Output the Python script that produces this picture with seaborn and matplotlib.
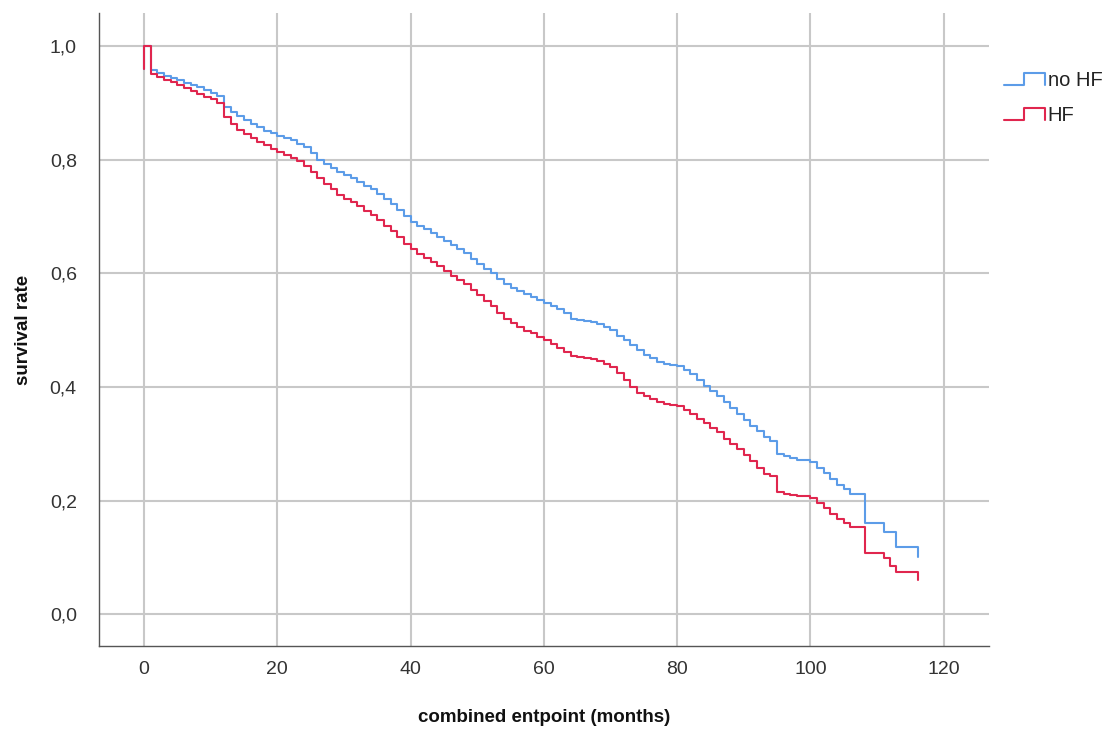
import numpy as np
import pandas as pd
import matplotlib
matplotlib.use("Agg")
import matplotlib.pyplot as plt
import seaborn as sns
from matplotlib.lines import Line2D
from matplotlib.legend_handler import HandlerBase
from matplotlib.ticker import FuncFormatter

# ---------------- data ----------------
groups = ["no HF", "HF"]

time_nohf = [0, 0, 1, 2, 3, 4, 5, 6, 7, 8, 9, 10, 11, 12, 13, 14, 15, 16, 17, 18, 19, 20,
             21, 22, 23, 24, 25, 26, 27, 28, 29, 30, 31, 32, 33, 34, 35, 36, 37, 38, 39, 40,
             41, 42, 43, 44, 45, 46, 47, 48, 49, 50, 51, 52, 53, 54, 55, 56, 57, 58, 59, 60,
             61, 62, 63, 64, 65, 66, 67, 68, 69, 70, 71, 72, 73, 74, 75, 76, 77, 78, 79, 80,
             81, 82, 83, 84, 85, 86, 87, 88, 89, 90, 91, 92, 93, 94, 95, 96, 97, 98, 100,
             101, 102, 103, 104, 105, 106, 108.2, 111, 112.8, 116.2]
surv_nohf = [0.96, 1.0, 0.958, 0.953, 0.948, 0.944, 0.940, 0.935, 0.931, 0.927, 0.922, 0.918,
             0.912, 0.892, 0.884, 0.876, 0.869, 0.862, 0.857, 0.851, 0.846, 0.842,
             0.838, 0.834, 0.828, 0.822, 0.812, 0.800, 0.793, 0.786, 0.779, 0.773,
             0.767, 0.760, 0.754, 0.748, 0.740, 0.731, 0.722, 0.712, 0.700, 0.690,
             0.684, 0.678, 0.671, 0.663, 0.657, 0.650, 0.643, 0.635, 0.625, 0.617,
             0.608, 0.600, 0.590, 0.581, 0.574, 0.568, 0.563, 0.558, 0.553, 0.548,
             0.543, 0.537, 0.530, 0.520, 0.517, 0.516, 0.514, 0.511, 0.506, 0.500,
             0.490, 0.482, 0.474, 0.465, 0.456, 0.450, 0.444, 0.440, 0.438, 0.436,
             0.430, 0.422, 0.412, 0.402, 0.393, 0.384, 0.374, 0.363, 0.352, 0.342,
             0.332, 0.322, 0.312, 0.305, 0.282, 0.278, 0.275, 0.272, 0.268,
             0.258, 0.248, 0.238, 0.228, 0.220, 0.212, 0.160, 0.145, 0.118, 0.100]

time_hf = [0, 0, 1, 2, 3, 4, 5, 6, 7, 8, 9, 10, 11, 12, 13, 14, 15, 16, 17, 18, 19, 20,
           21, 22, 23, 24, 25, 26, 27, 28, 29, 30, 31, 32, 33, 34, 35, 36, 37, 38, 39, 40,
           41, 42, 43, 44, 45, 46, 47, 48, 49, 50, 51, 52, 53, 54, 55, 56, 57, 58, 59, 60,
           61, 62, 63, 64, 65, 66, 67, 68, 69, 70, 71, 72, 73, 74, 75, 76, 77, 78, 79, 80,
           81, 82, 83, 84, 85, 86, 87, 88, 89, 90, 91, 92, 93, 94, 95, 96, 97, 98, 100,
           101, 102, 103, 104, 105, 106, 108.2, 111, 112, 112.8, 116.2]
surv_hf = [0.96, 1.0, 0.951, 0.946, 0.941, 0.936, 0.931, 0.926, 0.921, 0.916, 0.911, 0.906,
           0.900, 0.875, 0.862, 0.852, 0.845, 0.838, 0.831, 0.825, 0.819, 0.813,
           0.808, 0.803, 0.797, 0.788, 0.778, 0.768, 0.757, 0.748, 0.738, 0.730,
           0.725, 0.718, 0.710, 0.702, 0.693, 0.684, 0.674, 0.663, 0.652, 0.642,
           0.634, 0.626, 0.619, 0.612, 0.604, 0.596, 0.589, 0.581, 0.571, 0.561,
           0.551, 0.542, 0.530, 0.520, 0.512, 0.505, 0.499, 0.494, 0.488, 0.483,
           0.476, 0.469, 0.462, 0.455, 0.452, 0.451, 0.449, 0.446, 0.441, 0.435,
           0.425, 0.412, 0.400, 0.390, 0.384, 0.378, 0.373, 0.370, 0.368, 0.366,
           0.360, 0.352, 0.343, 0.336, 0.328, 0.320, 0.309, 0.300, 0.290, 0.280,
           0.270, 0.258, 0.247, 0.243, 0.215, 0.212, 0.210, 0.208, 0.204,
           0.196, 0.186, 0.176, 0.168, 0.160, 0.153, 0.107, 0.099, 0.085, 0.074, 0.060]

x_ticks = [0, 20, 40, 60, 80, 100, 120]
y_ticks = [0.0, 0.2, 0.4, 0.6, 0.8, 1.0]

# ---------------- styling ----------------
sns.set_theme(style="white")
plt.rcParams["font.family"] = ["Liberation Sans", "DejaVu Sans"]

colors = {"no HF": "#5C9CE8", "HF": "#E0264E"}

df = pd.concat([
    pd.DataFrame({"time": time_nohf, "survival": surv_nohf, "group": "no HF"}),
    pd.DataFrame({"time": time_hf, "survival": surv_hf, "group": "HF"}),
], ignore_index=True)

fig = plt.figure(figsize=(11.09, 7.36), dpi=100)
ax = fig.add_axes([0.0893, 0.1223, 0.8025, 0.8600])

sns.lineplot(data=df, x="time", y="survival", hue="group", hue_order=groups,
             palette=colors, estimator=None, sort=False, units="group",
             drawstyle="steps-post", linewidth=1.5, legend=False, ax=ax, zorder=3)

ax.set_xlim(-6.75, 126.8)
ax.set_ylim(-0.056, 1.058)
ax.set_xticks(x_ticks)
ax.set_yticks(y_ticks)
ax.yaxis.set_major_formatter(FuncFormatter(lambda v, p: f"{v:.1f}".replace(".", ",")))
ax.xaxis.set_major_formatter(FuncFormatter(lambda v, p: f"{int(v)}"))

ax.grid(True, color="#c8c8c8", linewidth=1.5, zorder=0)
ax.set_axisbelow(True)
for s in ["top", "right"]:
    ax.spines[s].set_visible(False)
for s in ["left", "bottom"]:
    ax.spines[s].set_color("#555555")
    ax.spines[s].set_linewidth(1.0)
ax.tick_params(axis="both", length=0, labelsize=14, labelcolor="#333333")
ax.tick_params(axis="x", pad=11)
ax.tick_params(axis="y", pad=16)

ax.set_xlabel("combined entpoint (months)", fontsize=13.5, fontweight="bold",
              color="#111111", labelpad=22)
ax.set_ylabel("survival rate", fontsize=13.5, fontweight="bold",
              color="#111111", labelpad=13)


class StepHandler(HandlerBase):
    def create_artists(self, legend, orig_handle, xdescent, ydescent, width, height,
                       fontsize, trans):
        x0, x1 = -xdescent, -xdescent + width
        ylo = -ydescent + height * 0.1
        yhi = -ydescent + height * 0.95
        xm = x0 + width * 0.5
        xs = [x0, xm, xm, x1, x1]
        ys = [ylo, ylo, yhi, yhi, ylo]
        ln = Line2D(xs, ys, color=orig_handle.get_color(), linewidth=1.5)
        ln.set_transform(trans)
        return [ln]


handles = [Line2D([], [], color=colors[g]) for g in groups]
leg = fig.legend(handles, groups, loc="upper left", bbox_to_anchor=(0.891, 0.925),
                 frameon=False, fontsize=14.5, handler_map={Line2D: StepHandler()},
                 handlelength=2.0, handletextpad=0.15, labelspacing=0.8,
                 borderpad=0.3)
for t in leg.get_texts():
    t.set_color("#222222")

fig.savefig("out.png", dpi=100)
